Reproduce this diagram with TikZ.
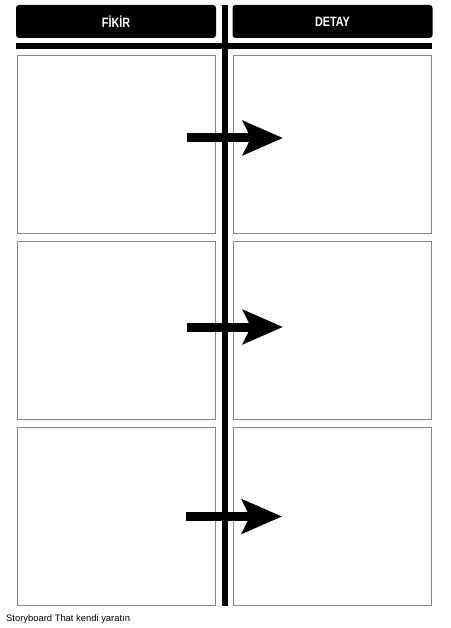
\documentclass[tikz,border=0pt]{standalone}
\usepackage{fontspec}
\setmainfont{Liberation Sans}
\usepackage{tikz}
\usetikzlibrary{arrows.meta}
\definecolor{panelgray}{RGB}{135,135,135}
\newcommand{\hdr}[1]{\scalebox{0.8}[1]{\bfseries\fontsize{13.5}{15}\selectfont #1}}

\begin{document}
\begin{tikzpicture}[x=1pt,y=-1pt,
    header/.style={fill=black,rounded corners=3pt,minimum width=200pt,minimum height=33pt,inner sep=0pt,text=white},
    panel/.style={draw=panelgray,line width=0.9pt,fill=white,minimum width=198pt,minimum height=178pt,inner sep=0pt},
    bigarrow/.style={line width=9pt,-{Stealth[length=40pt,width=34pt,inset=8pt]}}]
       \useasboundingbox (0,0) rectangle (450,628);
       % headers and bars
       \node[header] (hfikir) at (116,21.5) {\hdr{FİKİR}};
       \node[header] (hdetay) at (332.5,21.5) {\hdr{DETAY}};
       \coordinate (vtop) at (224.5,5);
       \coordinate (vbot) at (224.5,606);
       \coordinate (hleft) at (16,46);
       \coordinate (hright) at (432,46);
       \draw[line width=6pt] (vtop) -- (vbot);
       \draw[line width=6pt] (hleft) -- (hright);
       % panels
       \node[panel] (fikir1) at (116.5,144) {};
       \node[panel] (detay1) at (332.5,144) {};
       \node[panel] (fikir2) at (116.5,330.5) {};
       \node[panel] (detay2) at (332.5,330.5) {};
       \node[panel] (fikir3) at (116.5,516.5) {};
       \node[panel] (detay3) at (332.5,516.5) {};
       % arrows
       \coordinate (a1s) at (187,138);  \coordinate (a1e) at (283,138);
       \coordinate (a2s) at (187,327);  \coordinate (a2e) at (283,327);
       \coordinate (a3s) at (186,516.5);\coordinate (a3e) at (282,516.5);
       \draw[bigarrow] (a1s) -- (a1e);
       \draw[bigarrow] (a2s) -- (a2e);
       \draw[bigarrow] (a3s) -- (a3e);
       % footer
       \node[anchor=base west,inner sep=0pt,font=\fontsize{9.4}{11}\selectfont] (credit) at (6,621) {Storyboard That kendi yaratın};
      \end{tikzpicture}
\end{document}
